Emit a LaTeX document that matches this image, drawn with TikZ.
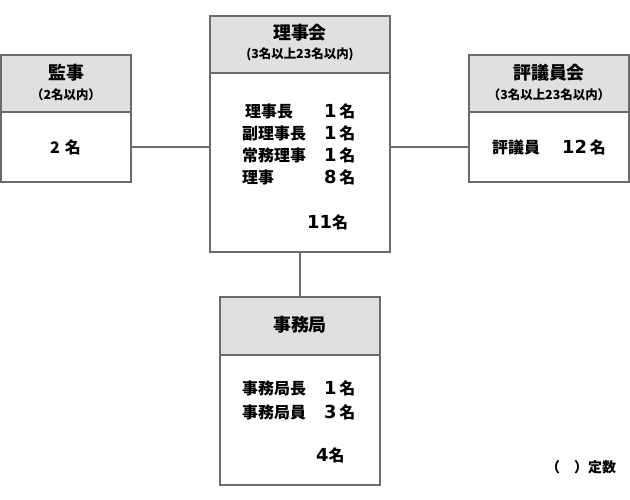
\documentclass[tikz,border=0pt]{standalone}
\usepackage{fontspec}
\setmainfont{Noto Sans CJK JP}
\newfontfamily\digitfont{DejaVu Sans}
\definecolor{framegray}{HTML}{6B6B6B}
\definecolor{headgray}{HTML}{E0E0E0}
\newcommand\ninzu[2][\,]{{\digitfont\bfseries\fontsize{18}{18}\selectfont #2}#1名}
\tikzset{
	frame/.style={draw=framegray, line width=1.6bp, fill=white, inner sep=0pt},
	headframe/.style={frame, fill=headgray},
	title/.style={font=\bfseries\fontsize{18}{18}\selectfont, inner sep=0pt},
	sub/.style={font=\bfseries\fontsize{12.5}{12.5}\selectfont, inner sep=0pt},
	item/.style={font=\bfseries\fontsize{16}{16}\selectfont, inner sep=0pt, anchor=west},
}

\begin{document}
\begin{tikzpicture}[x=1bp, y=-1bp]
		\useasboundingbox (0, 0) rectangle (630, 500);
		\node[headframe, minimum width=180bp, minimum height=57bp] (boardhead) at (300, 44.5) {};
		\node[frame, minimum width=180bp, minimum height=179bp] (boardbody) at (300, 162.5) {};
		\node[headframe, minimum width=130bp, minimum height=57bp] (audhead) at (66, 83.5) {};
		\node[frame, minimum width=130bp, minimum height=70bp] (audbody) at (66, 147) {};
		\node[headframe, minimum width=160bp, minimum height=57bp] (cnclhead) at (549, 83.5) {};
		\node[frame, minimum width=160bp, minimum height=70bp] (cnclbody) at (549, 147) {};
		\node[headframe, minimum width=160bp, minimum height=58bp] (secthead) at (300, 326) {};
		\node[frame, minimum width=160bp, minimum height=130bp] (sectbody) at (300, 420) {};
		\draw[framegray, line width=1.6bp] (audbody.east) -- (audbody.east -| boardbody.west);
		\draw[framegray, line width=1.6bp] (cnclbody.west) -- (cnclbody.west -| boardbody.east);
		\draw[framegray, line width=1.6bp] (boardbody.south) -- (secthead.north);
		\node[title] (boardtitle) at (300, 33) {理事会};
		\node[sub] (boardsub) at (300, 54) {(3名以上23名以内)};
		\node[item] (chair) at (245, 111) {理事長};
		\node[item] (vice) at (242, 133) {副理事長};
		\node[item] (exec) at (242, 155) {常務理事};
		\node[item] (member) at (242, 177) {理事};
		\node[item] (chairn) at (324, 111) {\ninzu{1}};
		\node[item] (vicen) at (324, 133) {\ninzu{1}};
		\node[item] (execn) at (324, 155) {\ninzu{1}};
		\node[item] (membern) at (324, 177) {\ninzu{8}};
		\node[item] (boardsum) at (307, 222) {\ninzu[]{11}};
		\node[title] (audtitle) at (66, 73) {監事};
		\node[sub] (audsub) at (66, 95) {（2名以内）};
		\node[item] (audn) at (50, 147) {2\hspace{5bp}名};
		\node[title] (cncltitle) at (549, 73) {評議員会};
		\node[sub] (cnclsub) at (549, 95) {（3名以上23名以内）};
		\node[item] (councillor) at (492, 147) {評議員};
		\node[item] (councillorn) at (562, 147) {\ninzu{12}};
		\node[title] (secttitle) at (300, 325) {事務局};
		\node[item] (head) at (242, 388) {事務局長};
		\node[item] (staff) at (242, 412) {事務局員};
		\node[item] (headn) at (324, 388) {\ninzu{1}};
		\node[item] (staffn) at (324, 412) {\ninzu{3}};
		\node[item] (sectsum) at (316, 455) {\ninzu[]{4}};
		\node[item, font=\bfseries\fontsize{14}{14}\selectfont] (legend) at (546, 467) {（　）定数};
	\end{tikzpicture}
\end{document}
